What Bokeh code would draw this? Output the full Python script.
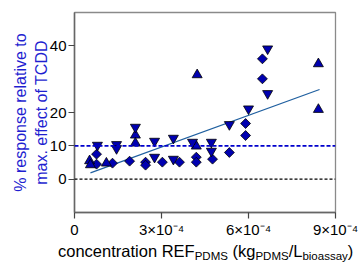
import math
from bokeh.plotting import figure
from bokeh.layouts import column
from bokeh.models import FixedTicker, Span, Div
from bokeh.embed import file_html
from bokeh.resources import INLINE

# ---- data ----
tri_x = [0.52e-4, 0.55e-4, 1.10e-4, 2.10e-4, 2.10e-4, 4.20e-4, 4.23e-4, 8.41e-4, 8.41e-4]
tri_y = [5.5, 4.3, 4.8, 13.2, 10.8, 9.9, 31.3, 34.6, 20.9]

inv_x = [0.79e-4, 1.45e-4, 1.45e-4, 2.10e-4, 2.76e-4, 2.76e-4, 3.41e-4, 3.41e-4,
         4.07e-4, 4.72e-4, 4.72e-4, 5.34e-4, 6.00e-4, 6.66e-4, 6.66e-4]
inv_y = [10.2, 10.4, 9.2, 15.6, 11.4, 6.6, 12.3, 6.0,
         11.1, 11.1, 8.4, 16.4, 21.1, 39.1, 25.7]

dia_x = [0.76e-4, 0.76e-4, 1.31e-4, 1.90e-4, 2.45e-4, 2.45e-4, 3.03e-4, 3.62e-4,
         4.20e-4, 4.20e-4, 4.76e-4, 5.34e-4, 5.90e-4, 5.90e-4, 6.48e-4, 6.48e-4]
dia_y = [7.5, 4.5, 4.8, 5.4, 5.1, 4.2, 5.1, 5.1,
         6.6, 5.1, 6.0, 8.0, 16.7, 13.1, 36.1, 30.1]

fit_x = [0.55e-4, 8.45e-4]
fit_y = [1.9, 26.9]

ref_level_blue = 10
ref_level_black = 0

x_ticks = [0, 3e-4, 6e-4, 9e-4]
x_tick_labels = ["0", "3\u00d710\u207b\u2074", "6\u00d710\u207b\u2074", "9\u00d710\u207b\u2074"]
y_ticks = [0, 10, 20, 40]
y_tick_labels = ["0", "10", "20", "40"]

y_label = "% response relative to\nmax. effect of TCDD"
x_label_pieces = [("concentration REF", False), ("PDMS", True), (" (kg", False), ("PDMS", True),
                  ("/L", False), ("bioassay", True), (")", False)]

FONT = "Liberation Sans"
MARK = "#0000b0"

p = figure(width=361, height=240, x_range=(0, 9e-4), y_range=(-10, 50),
           output_backend="svg", toolbar_location=None,
           min_border_left=74, min_border_right=26, min_border_top=12, min_border_bottom=28)
p.grid.visible = False
p.background_fill_color = "white"
p.outline_line_color = "#8a8a8a"
p.outline_line_width = 1.3

for ax in (p.xaxis[0], p.yaxis[0]):
    ax.axis_line_color = "#666666"
    ax.axis_line_width = 1.5
    ax.major_tick_line_color = "#444444"
    ax.major_tick_line_width = 1.2
    ax.major_tick_out = 6
    ax.major_tick_in = 0
    ax.minor_tick_line_color = None
    ax.major_label_text_font = FONT
    ax.major_label_text_font_size = "15px"
    ax.major_label_text_color = "black"
    ax.major_label_standoff = 2

p.xaxis[0].ticker = FixedTicker(ticks=x_ticks)
p.xaxis[0].major_label_overrides = {t: l for t, l in zip(x_ticks, x_tick_labels)}
p.yaxis[0].ticker = FixedTicker(ticks=y_ticks)
p.yaxis[0].major_label_overrides = {t: l for t, l in zip(y_ticks, y_tick_labels)}
p.yaxis[0].axis_label = y_label
p.yaxis[0].axis_label_text_font = FONT
p.yaxis[0].axis_label_text_font_size = "16px"
p.yaxis[0].axis_label_text_font_style = "normal"
p.yaxis[0].axis_label_text_color = "#1f1fd0"
p.yaxis[0].axis_label_standoff = -3

p.add_layout(Span(location=ref_level_black, dimension="width", line_color="black",
                  line_dash="3 2", line_width=1.3))
p.add_layout(Span(location=ref_level_blue, dimension="width", line_color="#0000cc",
                  line_dash="4 2", line_width=1.6))

p.line(fit_x, fit_y, line_color="#2060a0", line_width=1.2)

p.scatter(dia_x, dia_y, marker="square", angle=math.pi / 4, size=7,
          fill_color=MARK, line_color="black", line_width=0.8)
p.scatter(tri_x, tri_y, marker="triangle", size=10,
          fill_color=MARK, line_color="black", line_width=0.8)
p.scatter(inv_x, inv_y, marker="inverted_triangle", size=10,
          fill_color=MARK, line_color="black", line_width=0.8)

# x axis label with subscripts, as a text strip below the plot
sub_style = "font-size:11.5px;line-height:12px;position:relative;top:3px;"
html = "".join(
    f'<span style="{sub_style}">{t}</span>' if s else t for t, s in x_label_pieces
)
lab = Div(text=f'<div style="font-family:\'Liberation Sans\';font-size:16.5px;line-height:16px;'
               f'white-space:nowrap;padding-left:58px;padding-top:3px;color:black;margin:0;">{html}</div>',
          width=361, height=25, margin=(0, 0, 0, 0))

open("out.html", "w").write(file_html(column(p, lab, spacing=0), INLINE))
